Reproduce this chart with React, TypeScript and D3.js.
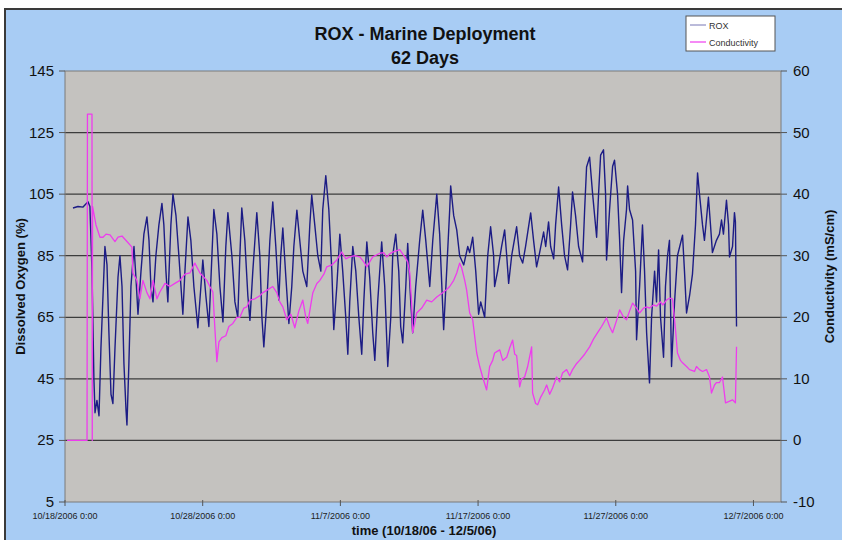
import * as d3 from 'd3';

// days since 10/18/2006 0:00
const roxDays = [0.58, 0.94, 1.31, 1.67, 1.81, 1.96, 2.10, 2.18, 2.32, 2.47, 2.61, 2.83, 2.90, 3.05, 3.19, 3.34, 3.48, 3.63, 3.85, 3.99, 4.14, 4.28, 4.43, 4.50, 4.64, 4.79, 5.01, 5.15, 5.30, 5.52, 5.73, 5.95, 6.10, 6.24, 6.39, 6.60, 6.82, 7.04, 7.18, 7.33, 7.47, 7.69, 7.84, 8.06, 8.27, 8.56, 8.71, 8.93, 9.14, 9.36, 9.65, 9.87, 10.01, 10.23, 10.45, 10.67, 10.81, 11.03, 11.25, 11.47, 11.68, 11.83, 12.12, 12.34, 12.55, 12.70, 12.84, 13.06, 13.28, 13.43, 13.64, 13.93, 14.15, 14.30, 14.44, 14.66, 14.88, 15.09, 15.31, 15.53, 15.67, 15.82, 16.04, 16.26, 16.47, 16.62, 16.84, 17.05, 17.27, 17.56, 17.78, 17.92, 18.14, 18.36, 18.58, 18.72, 18.94, 19.16, 19.38, 19.52, 19.74, 19.96, 20.17, 20.39, 20.54, 20.68, 20.90, 21.12, 21.34, 21.55, 21.70, 21.92, 22.13, 22.35, 22.50, 22.71, 23.00, 23.22, 23.44, 23.66, 23.80, 24.02, 24.24, 24.38, 24.53, 24.75, 24.89, 25.11, 25.25, 25.47, 25.76, 25.98, 26.20, 26.49, 26.71, 27.00, 27.21, 27.50, 27.72, 27.94, 28.01, 28.23, 28.45, 28.66, 28.96, 29.25, 29.39, 29.61, 29.83, 30.04, 30.19, 30.48, 30.70, 30.91, 31.13, 31.20, 31.42, 31.71, 31.93, 32.08, 32.22, 32.44, 32.80, 33.02, 33.24, 33.45, 33.82, 34.03, 34.25, 34.47, 34.76, 34.91, 35.12, 35.27, 35.49, 35.63, 35.85, 36.07, 36.28, 36.50, 36.72, 36.86, 37.08, 37.30, 37.59, 37.74, 37.88, 38.10, 38.32, 38.61, 38.75, 38.90, 39.11, 39.26, 39.33, 39.55, 39.77, 39.91, 40.13, 40.28, 40.42, 40.57, 40.78, 40.86, 41.00, 41.22, 41.44, 41.51, 41.73, 41.94, 42.09, 42.24, 42.45, 42.60, 42.82, 42.96, 43.11, 43.25, 43.47, 43.61, 43.76, 43.90, 44.05, 44.27, 44.48, 44.85, 44.99, 45.14, 45.36, 45.57, 45.79, 45.94, 46.08, 46.30, 46.44, 46.59, 46.73, 46.88, 47.02, 47.31, 47.53, 47.68, 47.82, 48.04, 48.19, 48.26, 48.48, 48.62, 48.69, 48.77];
const roxValues = [100.5, 101, 100.8, 102.5, 101, 80, 45, 34, 38, 33, 55, 80, 88, 82, 60, 40, 37, 55, 78, 85, 75, 50, 35, 30, 50, 75, 88, 78, 66, 80, 92, 97.6, 90, 75, 70, 85, 95, 102, 95, 80, 70, 95, 105, 98, 85, 66, 80, 97.6, 90, 75, 61.6, 75, 83.6, 72, 62, 85, 100, 92, 75, 63.5, 88, 99, 85, 70, 65, 85, 100.5, 90, 72, 64, 80, 99, 85, 65, 55.4, 70, 90, 102.5, 88, 70.6, 85, 94, 78, 63, 75, 88, 99.8, 90, 80, 75, 95, 104.7, 95, 85, 80, 100, 111, 100, 80, 61, 75, 92, 80, 65, 53, 70, 88, 80, 65, 53, 70, 89.5, 78, 60, 51, 70, 89.5, 75, 49, 65, 85, 92, 80, 62, 56.7, 75, 89, 70, 60, 75, 90, 99.8, 90, 75, 90, 105, 92, 61, 80, 100, 107.7, 98, 93.4, 85, 82, 88, 86, 91, 80, 66, 70, 65, 85, 94.4, 85, 75, 80, 88, 93.4, 85, 76, 85, 94.4, 85, 82.6, 88, 98.9, 90, 81.4, 86, 92.7, 88, 96, 88, 84, 95, 107.3, 95, 85, 80.4, 95, 105.7, 98, 88, 83, 100, 113.8, 117, 105, 91, 105, 117.7, 119.4, 105, 83.6, 100, 114, 116, 105, 90, 73, 90, 100, 107.7, 100, 96.6, 80, 57.7, 75, 95, 80, 60, 43.7, 65, 80, 70, 86.9, 65, 52, 75, 85, 90, 49, 70, 85, 91.7, 80, 66.4, 72, 79, 95, 111.9, 105, 95, 90, 97, 104, 95, 86, 90, 92, 96.6, 92, 103, 95, 84.6, 88, 99, 96, 62];

const condDays = [0.15, 1.60, 1.63, 1.96, 1.98, 2.00, 2.25, 2.54, 2.76, 2.98, 3.27, 3.63, 3.85, 4.14, 4.50, 4.86, 4.93, 5.22, 5.44, 5.66, 5.95, 6.17, 6.39, 6.68, 6.89, 7.26, 7.62, 7.98, 8.35, 8.71, 9.07, 9.43, 9.80, 10.30, 10.52, 10.74, 10.89, 11.03, 11.18, 11.39, 11.68, 11.90, 12.19, 12.48, 12.70, 12.99, 13.21, 13.43, 13.79, 14.15, 14.37, 14.73, 15.09, 15.38, 15.60, 15.82, 16.11, 16.40, 16.69, 16.98, 17.27, 17.49, 17.63, 17.85, 18.00, 18.29, 18.51, 18.80, 19.01, 19.38, 19.74, 20.10, 20.39, 20.68, 21.04, 21.41, 21.70, 21.92, 22.13, 22.35, 22.86, 23.15, 23.37, 23.58, 23.80, 24.31, 24.67, 24.89, 25.04, 25.18, 25.25, 25.40, 25.54, 25.91, 26.27, 26.63, 27.00, 27.43, 27.72, 27.94, 28.23, 28.45, 28.66, 28.81, 29.03, 29.17, 29.39, 29.61, 29.90, 30.12, 30.33, 30.62, 30.84, 31.06, 31.20, 31.42, 31.57, 31.79, 32.08, 32.29, 32.51, 32.66, 32.80, 33.02, 33.16, 33.38, 33.60, 33.89, 33.96, 34.18, 34.33, 34.54, 34.83, 34.98, 35.20, 35.41, 35.70, 35.92, 36.14, 36.43, 36.65, 36.86, 37.16, 37.37, 37.74, 38.10, 38.39, 38.68, 38.97, 39.33, 39.55, 39.77, 40.06, 40.28, 40.57, 40.78, 41.00, 41.22, 41.51, 41.73, 42.02, 42.24, 42.45, 42.74, 42.96, 43.25, 43.40, 43.69, 43.90, 44.12, 44.34, 44.48, 44.70, 44.85, 45.14, 45.36, 45.72, 45.86, 46.08, 46.30, 46.59, 46.81, 46.95, 47.17, 47.31, 47.53, 47.75, 47.97, 48.19, 48.48, 48.69, 48.77];
const condValues = [0, 0, 53, 53, 0, 38, 35, 33, 33, 33.5, 33.4, 32.3, 33, 33.2, 32.3, 31.4, 27.2, 26, 23, 26, 24, 23, 26, 23, 24.1, 25.5, 25, 25.5, 26, 27, 27.2, 28.8, 27.2, 26, 25, 24.1, 18, 12.8, 16, 16.7, 17, 18.5, 19, 20, 20, 21.5, 21.7, 22.8, 23, 23.5, 24, 24.5, 25, 24, 22.5, 21.7, 19.6, 20.5, 18.3, 21, 22.8, 20, 19, 22, 24, 25.5, 26, 27, 28.2, 28.5, 29.3, 30.6, 29.5, 29.8, 30, 29.8, 29, 28.2, 29, 29.8, 30.4, 30.5, 29.8, 30.3, 30.6, 31, 29.8, 29, 27.2, 22, 17.5, 19, 20.7, 21.5, 22.8, 22.5, 23.3, 24, 24.5, 25, 26, 27.2, 28.8, 28, 26, 24.4, 20.7, 19.6, 14.2, 12, 10.3, 8.2, 12, 13, 14.2, 14.5, 14.7, 13, 13.5, 15, 16.3, 14, 13.8, 8.7, 10, 10.3, 12, 15.2, 7.7, 6, 5.8, 7, 8.2, 9, 7.5, 8.5, 10.3, 9.5, 11, 11.5, 10.5, 11.5, 12.5, 13, 14, 15.2, 16.5, 17.5, 18.5, 19.9, 18.5, 17.5, 19.5, 21.2, 20, 19.6, 21, 22.3, 21.5, 20.7, 21.5, 21.7, 21.5, 22, 21.8, 22.5, 22, 22.8, 23.1, 23, 18, 14.2, 13, 12.6, 12, 11.5, 11.2, 12, 11.5, 11.2, 11.5, 10.3, 7.7, 9, 9.4, 9.4, 10.3, 6.1, 6.3, 6.6, 6.1, 15.2];

const xTickDays = [0, 10, 20, 30, 40, 50];
const xTickLabels = ['10/18/2006 0:00', '10/28/2006 0:00', '11/7/2006 0:00', '11/17/2006 0:00', '11/27/2006 0:00', '12/7/2006 0:00'];
const leftTicks = [5, 25, 45, 65, 85, 105, 125, 145];
const rightTicks = [-10, 0, 10, 20, 30, 40, 50, 60];

const W = 842;
const H = 540;
const plot = { left: 65, right: 781, top: 71, bottom: 502 };
const font = "'Liberation Sans', Arial, sans-serif";
const roxColor = '#1c1c85';
const condColor = '#ee3cee';

export default function App() {
  const x = d3.scaleLinear().domain([0, 52]).range([plot.left, plot.right]);
  const yL = d3.scaleLinear().domain([5, 145]).range([plot.bottom, plot.top]);
  const yR = d3.scaleLinear().domain([-10, 60]).range([plot.bottom, plot.top]);

  const roxLine = d3.line<number>()
    .x((_, i) => x(roxDays[i]))
    .y((d) => yL(d));
  const condLine = d3.line<number>()
    .x((_, i) => x(condDays[i]))
    .y((d) => yR(d));

  const midY = (plot.top + plot.bottom) / 2;

  return (
    <svg width={W} height={H} style={{ position: 'absolute', left: 0, top: 0, fontFamily: font }}>
      <rect x={0} y={0} width={W} height={H} fill="#ffffff" />
      <rect x={5} y={9} width={W + 10} height={H + 10} fill="#a8ccf4" stroke="#3a3a3a" strokeWidth={2} />

      {/* plot area */}
      <rect x={plot.left} y={plot.top} width={plot.right - plot.left} height={plot.bottom - plot.top} fill="#c4c2bf" />
      {leftTicks.slice(1, -1).map((t) => (
        <line key={t} x1={plot.left} x2={plot.right} y1={yL(t)} y2={yL(t)} stroke="#3c3c3c" strokeWidth={1.2} />
      ))}
      <rect x={plot.left} y={plot.top} width={plot.right - plot.left} height={plot.bottom - plot.top} fill="none" stroke="#7a7a7a" strokeWidth={1} />

      <path d={roxLine(roxValues) || ''} fill="none" stroke={roxColor} strokeWidth={1.4} strokeLinejoin="round" />
      <path d={condLine(condValues) || ''} fill="none" stroke={condColor} strokeWidth={1.3} strokeLinejoin="round" />

      {/* left axis */}
      {leftTicks.map((t) => (
        <g key={t}>
          <line x1={plot.left - 6} x2={plot.left} y1={yL(t)} y2={yL(t)} stroke="#555" />
          <text x={plot.left - 11} y={yL(t) + 5} textAnchor="end" fontSize={15} fill="#111">{t}</text>
        </g>
      ))}
      {/* right axis */}
      {rightTicks.map((t) => (
        <g key={t}>
          <line x1={plot.right} x2={plot.right + 6} y1={yR(t)} y2={yR(t)} stroke="#555" />
          <text x={plot.right + 12} y={yR(t) + 5} textAnchor="start" fontSize={15} fill="#111">{t}</text>
        </g>
      ))}
      {/* x axis */}
      {xTickDays.map((d, i) => (
        <g key={d}>
          <line x1={x(d)} x2={x(d)} y1={plot.bottom - 2} y2={plot.bottom + 4} stroke="#555" />
          <text x={x(d)} y={plot.bottom + 17} textAnchor="middle" fontSize={9} fill="#222">{xTickLabels[i]}</text>
        </g>
      ))}

      {/* titles */}
      <text x={425} y={40} textAnchor="middle" fontSize={18} fontWeight="bold" fill="#111">ROX - Marine Deployment</text>
      <text x={425} y={64} textAnchor="middle" fontSize={18} fontWeight="bold" fill="#111">62 Days</text>
      <text x={424} y={535} textAnchor="middle" fontSize={13} fontWeight="bold" fill="#111">time (10/18/06 - 12/5/06)</text>
      <text transform={`translate(25,${midY}) rotate(-90)`} textAnchor="middle" fontSize={13} fontWeight="bold" fill="#111">Dissolved Oxygen (%)</text>
      <text transform={`translate(834,${midY - 10}) rotate(-90)`} textAnchor="middle" fontSize={13} fontWeight="bold" fill="#111">Conductivity (mS/cm)</text>

      {/* legend */}
      <g>
        <rect x={686} y={16} width={89} height={35} fill="#ffffff" stroke="#555" strokeWidth={1} />
        <line x1={690} x2={706} y1={25} y2={25} stroke={roxColor} strokeWidth={1} opacity={0.6} />
        <text x={709} y={28.5} fontSize={9} fill="#333">ROX</text>
        <line x1={690} x2={706} y1={42} y2={42} stroke={condColor} strokeWidth={1.2} />
        <text x={709} y={45.5} fontSize={9} fill="#333">Conductivity</text>
      </g>
    </svg>
  );
}
